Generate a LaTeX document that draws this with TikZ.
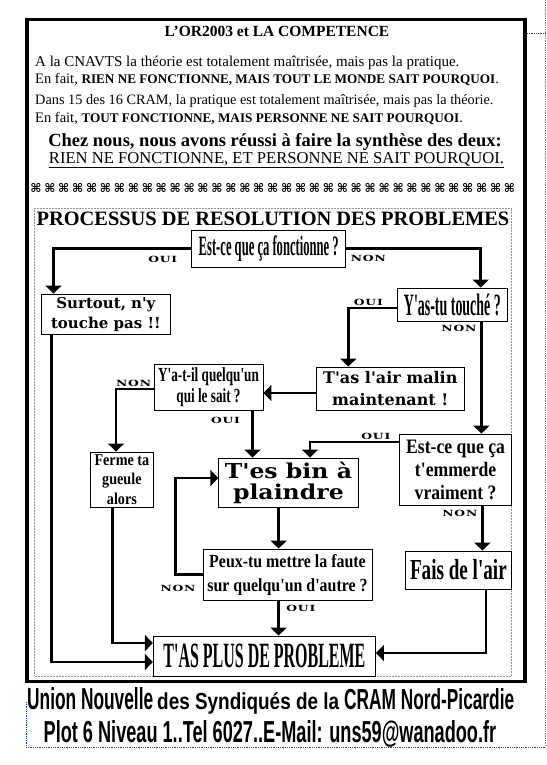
\documentclass[tikz,border=0pt]{standalone}
\usepackage{fontspec}
\setmainfont{Liberation Serif}
\newfontfamily\tallfont[FakeStretch=0.45]{Liberation Serif}
\newfontfamily\narrowfont[FakeStretch=0.66]{Liberation Serif}
\newfontfamily\semifont[FakeStretch=0.86]{Liberation Serif}
\newfontfamily\widefont{DejaVu Serif}
\newfontfamily\extfont[FakeStretch=1.15]{DejaVu Serif}
\newfontfamily\tagfont[FakeStretch=1.45,LetterSpace=10]{DejaVu Serif}
\newfontfamily\symfont{DejaVu Sans}
\newfontfamily\footfont{Liberation Sans}
\usepackage{graphicx}
\usepackage{xcolor}
\definecolor{frameGrey}{RGB}{150,150,150}
\definecolor{wordBlue}{RGB}{20,60,230}
\definecolor{wordCyan}{RGB}{0,175,190}
\usepackage{tikz}
\usetikzlibrary{arrows.meta}

\begin{document}
\begin{tikzpicture}[x=1pt,y=-1pt,
  box/.style={draw,line width=0.9pt,fill=white,inner sep=0pt,align=center},
  arr/.style={line width=2.6pt,-{Triangle[length=8pt,width=16pt]}},
  tag/.style={font=\tagfont\bfseries\fontsize{8.5}{8.5}\selectfont,inner sep=0pt},
  head/.style={anchor=base west,inner sep=0pt,font=\fontsize{14.5}{14.5}\selectfont}]
  \fill[white] (0,0) rectangle (546,765);
  \useasboundingbox (0,0) rectangle (546,765);
  % frames
  \draw[line width=3.4pt] (26.8,19.5) rectangle (525,681.5);
  \draw[frameGrey,densely dotted,line width=0.5pt] (34.5,208) rectangle (511.3,676);
  \draw[wordCyan,densely dotted,line width=0.8pt] (545.5,0) -- (545.5,747);
  \draw[wordBlue,densely dotted,line width=0.8pt] (527,33) -- (545.5,33);
  \draw[wordBlue,densely dotted,line width=0.8pt] (26,702) -- (26,747) -- (545.5,747);
  % header
  \node[head,anchor=base,font=\bfseries\fontsize{15.5}{15.5}\selectfont] (title) at (277,36.5) {L'OR2003 et LA COMPETENCE};
  \node[head,font=\fontsize{15}{15}\selectfont] (cnav) at (35,66.5) {A la CNAVTS la théorie est totalement maîtrisée, mais pas la pratique.};
  \node[head] (cnavfact) at (35,83.5) {En fait, {\bfseries\fontsize{13.2}{13.2}\selectfont RIEN NE FONCTIONNE, MAIS TOUT LE MONDE SAIT POURQUOI}.};
  \node[head,font=\fontsize{14.3}{14.3}\selectfont] (cram) at (35,105) {Dans 15 des 16 CRAM, la pratique est totalement maîtrisée, mais pas la théorie.};
  \node[head] (cramfact) at (35,122.5) {En fait, {\bfseries\fontsize{13.2}{13.2}\selectfont TOUT FONCTIONNE, MAIS PERSONNE NE SAIT POURQUOI}.};
  \node[head,anchor=base,font=\bfseries\fontsize{18.5}{18.5}\selectfont] (ours) at (275,146.5) {Chez nous, nous avons réussi à faire la synthèse des deux:};
  \node[head,anchor=base,font=\fontsize{16.6}{16.6}\selectfont] (both) at (276.5,163.3) {\underline{RIEN NE FONCTIONNE, ET PERSONNE NE SAIT POURQUOI.}};
  \foreach \i in {0,...,34}
    \node[font=\symfont\bfseries\fontsize{12}{12}\selectfont,inner sep=0pt] (sym\i) at (35.9+13.93*\i,188) {⌘};
  \node[inner sep=0pt,anchor=base,font=\bfseries\fontsize{20.4}{20.4}\selectfont] (proc) at (273,225) {PROCESSUS DE RESOLUTION DES PROBLEMES};
  % flowchart
  \node[box,minimum width=154pt,minimum height=37pt,font=\tallfont\bfseries\fontsize{28}{28}\selectfont] (works) at (268.7,248.5) {Est-ce que ça fonctionne ?};
  \node[box,minimum width=129.6pt,minimum height=40pt,font=\widefont\bfseries\fontsize{15}{20}\selectfont] (leave) at (105.9,314) {Surtout, n'y\\touche pas !!};
  \node[box,minimum width=110.8pt,minimum height=33pt,font=\tallfont\bfseries\fontsize{31}{31}\selectfont] (touched) at (452.4,304.5) {Y'as-tu touché ?};
  \node[box,minimum width=148pt,minimum height=43pt,font=\widefont\bfseries\fontsize{16}{21.5}\selectfont] (smart) at (390.3,388.5) {T'as l'air malin\\maintenant !};
  \node[box,minimum width=109pt,minimum height=46pt,font=\narrowfont\bfseries\fontsize{20}{21}\selectfont] (knows) at (208.5,387) {Y'a-t-il quelqu'un\\qui le sait ?};
  \node[box,minimum width=62.7pt,minimum height=55pt,font=\semifont\bfseries\fontsize{16.5}{19.5}\selectfont] (shut) at (121.9,479.5) {Ferme ta\\gueule\\alors};
  \node[box,minimum width=139.3pt,minimum height=49pt,font=\extfont\bfseries\fontsize{20.5}{21}\selectfont] (pity) at (288.4,482.5) {T'es bin à\\plaindre};
  \node[box,minimum width=111.5pt,minimum height=71pt,font=\semifont\bfseries\fontsize{20.5}{23}\selectfont] (bother) at (455.6,469.5) {Est-ce que ça\\t'emmerde\\vraiment ?};
  \node[box,minimum width=169pt,minimum height=51pt,font=\semifont\bfseries\fontsize{18.5}{24}\selectfont] (blame) at (287.5,574.5) {Peux-tu mettre la faute\\sur quelqu'un d'autre ?};
  \node[box,minimum width=105.2pt,minimum height=38pt,font=\narrowfont\bfseries\fontsize{29}{29}\selectfont] (air) at (458.4,570) {Fais de l'air};
  \node[box,minimum width=222.2pt,minimum height=40pt,font=\tallfont\bfseries\fontsize{35.5}{35.5}\selectfont] (solved) at (264.4,656) {T'AS PLUS DE PROBLEME};
  \draw[arr] (works.west) -| ([xshift=-52.4pt]leave.north);
  \draw[arr] (works.east) -| ([xshift=28.3pt]touched.north);
  \draw[arr] ([yshift=-3.5pt]touched.west) -| ([xshift=-42pt]smart.north);
  \draw[arr] ([xshift=29pt]touched.south) -- ([xshift=29pt]touched.south |- bother.north);
  \draw[arr] ([yshift=-4.5pt]smart.west) -- ([yshift=-4.5pt]smart.west -| knows.east);
  \draw[arr] ([yshift=-2pt]knows.west) -| ([xshift=-5.9pt]shut.north);
  \draw[arr] ([xshift=44pt]knows.south) -- ([xshift=44pt]knows.south |- pity.north);
  \draw[arr] ([yshift=27.5pt]bother.west) -| ([xshift=21.6pt]pity.north);
  \draw[arr] ([xshift=26.8pt]bother.south) -- ([xshift=26.8pt]bother.south |- air.north);
  \draw[arr] ([xshift=-9.8pt]pity.south) -- ([xshift=-9.8pt]pity.south |- blame.north);
  \draw[arr] (blame.west) -- ++(-27,0) |- ([yshift=4.5pt]pity.west);
  \draw[arr] ([xshift=-8.9pt]blame.south) -- ([xshift=-8.9pt]blame.south |- solved.north);
  \draw[arr] ([xshift=-54.4pt]leave.south) |- ([yshift=-6pt]solved.west);
  \draw[arr] ([xshift=-9.7pt]shut.south) |- ([yshift=13pt]solved.west);
  \draw[arr] ([xshift=27.5pt]air.south) |- ([yshift=3pt]solved.east);
  \node[tag] (worksyes) at (162.8,259) {OUI};
  \node[tag] (worksno) at (368.3,258) {NON};
  \node[tag] (touchedyes) at (368.3,302) {OUI};
  \node[tag] (touchedno) at (458.9,328) {NON};
  \node[tag] (knowsno) at (133.6,383) {NON};
  \node[tag] (knowsyes) at (225.5,420) {OUI};
  \node[tag] (botheryes) at (375.8,436) {OUI};
  \node[tag] (botherno) at (459.8,513) {NON};
  \node[tag] (blameno) at (178,588) {NON};
  \node[tag] (blameyes) at (300.8,608) {OUI};
  % footer
  \node[inner sep=0pt,anchor=base west,font=\footfont\bfseries] (union) at (27,709) {\resizebox{126pt}{22pt}{Union Nouvelle}\hspace{4pt}\resizebox{182pt}{17pt}{des Syndiqués de la}\hspace{5pt}\resizebox{170pt}{21pt}{CRAM Nord-Picardie}};
  \node[inner sep=0pt,anchor=base west,font=\footfont\bfseries] (plot) at (43.5,742) {\resizebox{452.5pt}{22pt}{Plot 6 Niveau 1..Tel 6027..E-Mail: uns59@wanadoo.fr}};
\end{tikzpicture}
\end{document}
